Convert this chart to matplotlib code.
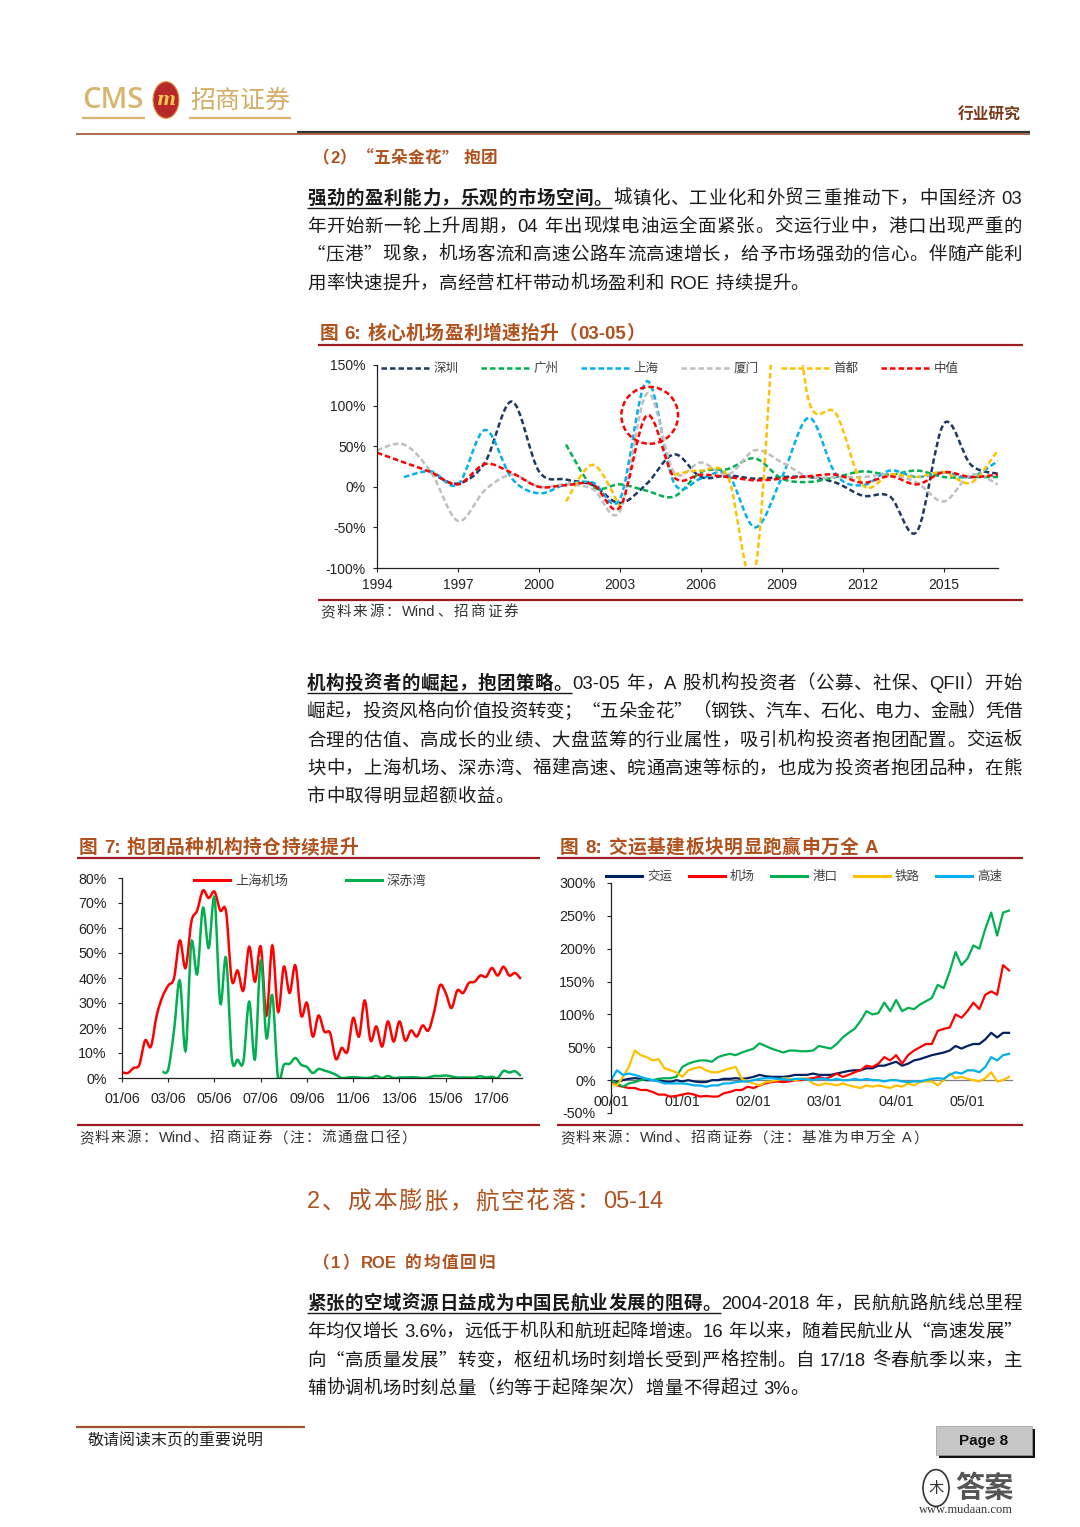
import re
import numpy as np
import matplotlib
matplotlib.use('Agg')
import matplotlib.pyplot as plt
from matplotlib.path import Path
from matplotlib.patches import PathPatch, Ellipse, Rectangle, Circle
from matplotlib.lines import Line2D

# ---------------- data ----------------
# Figure 6: core airports profit growth (yearly, %)
years6 = list(range(1994, 2018))
shenzhen = [np.nan, np.nan, 17, 4, 30, 105, 19, 9, 2, -20, 4, 40, 12, 14, 10, 12, 12, 5, -11, -12, -55, 78, 27, 16]
guangzhou = [np.nan] * 7 + [52, 0, 3, -5, -12, 18, 22, 35, 10, 6, 12, 19, 15, 20, 12, 12, 12]
shanghai = [np.nan, 12, 19, 3, 70, 10, -8, 3, 5, -15, 130, 5, 10, 15, -50, 12, 85, 15, 2, 20, 12, 18, 12, 32]
xiamen = [45, 52, 18, -42, -4, 15, 0, 3, -3, -30, 115, 18, 30, 15, 45, 30, 12, 12, 12, 15, 5, -18, 15, 3]
capital = [np.nan] * 7 + [-18, 27, -25, np.nan, 15, 20, 12, -103, 300, 105, 90, 2, 15, 12, 18, 5, 45]
median = [42, 30, 18, 3, 28, 17, 0, 2, 3, -25, 88, 12, 15, 12, 8, 10, 13, 15, 5, 13, 3, 18, 12, 15]
names6 = ['深圳', '广州', '上海', '厦门', '首都', '中值']
colors6 = ['#1F3864', '#00B050', '#00B0F0', '#BFBFBF', '#FFC000', '#FF0000']
xticks6 = [1994, 1997, 2000, 2003, 2006, 2009, 2012, 2015]
yticks6 = [-100, -50, 0, 50, 100, 150]

# Figure 7: institutional holdings (quarterly from 2001/06, %)
sh_airport = [2.3, 2.0, 4.0, 5.3, 15.0, 12.6, 25.0, 32.5, 37.0, 40.0,
              55.0, 44.0, 62.5, 67.0, 75.0, 72.0, 74.5, 67.0, 66.5, 39.0,
              43.0, 35.0, 52.5, 38.5, 52.5, 25.0, 53.0, 26.5, 44.5, 34.0,
              45.0, 25.0, 30.0, 16.6, 25.0, 18.6, 18.0, 7.6, 12.0, 10.6,
              24.0, 16.6, 31.0, 15.0, 20.6, 12.6, 22.6, 14.6, 22.6, 15.0,
              19.0, 16.6, 21.0, 19.0, 26.5, 37.0, 34.0, 28.0, 35.0, 34.0,
              38.0, 38.5, 41.0, 40.5, 44.0, 41.0, 44.5, 41.0, 42.0, 39.6]
sz_chiwan = [np.nan] * 7 + [2.5, 3.5, 19, 39, 11, 54, 41.6, 68, 52, 72, 30, 48, 8, 7.3, 6.6,
                            30.5, 7.6, 47, 16, 33, 0, 5.3, 5.7, 8, 5.3, 4.4, 2, 3.6, 3, 2.3, 1.3, 0,
                            0.2, 0.3, 0.2, 0, 0.2, 0.8, 0, 0.8, 0, 0.2,
                            0.2, 0.3, 0.2, 0, 0.2, 0.8, 0.8, 1.0, 0.6, 0.2,
                            0.2, 0.2, 0.2, 0.7, 0.2, 0.5, 0, 2.8, 2.2, 2.7, 0.8]
names7 = ['上海机场', '深赤湾']
xlabels7 = ['01/06', '03/06', '05/06', '07/06', '09/06', '11/06', '13/06', '15/06', '17/06']
yticks7 = [0, 10, 20, 30, 40, 50, 60, 70, 80]

# Figure 8: sector excess return vs SW All-A (monthly from 2000/01, %)
transport = [0, -3, 0, 2, 3, 2, 0, 0, 0, -2, -3, 0, -2, 0, -2, -3, -3, 0, 0, 2,
             2, 3, 2, 3, 5, 8, 6, 5, 5, 5, 6, 8, 8, 8, 10, 8, 8, 8, 10, 12,
             14, 15, 15, 18, 18, 22, 22, 25, 28, 22, 25, 30, 32, 35, 38, 40, 42, 45, 52, 48,
             52, 55, 55, 62, 72, 65, 72, 72]
airport = [0, -8, -10, -12, -12, -15, -15, -18, -22, -22, -25, -24, -22, -20, -22, -25, -24, -25, -25, -20,
           -18, -15, -15, -10, -12, -8, -5, -3, -2, -3, -2, 0, 0, 2, 3, 5, 2, 5, 10, 5,
           8, 12, 15, 22, 20, 25, 35, 30, 38, 25, 38, 45, 50, 55, 55, 75, 78, 80, 100, 95,
           105, 118, 108, 130, 135, 130, 175, 167]
port = [0, -5, -10, -5, -3, 0, 2, 0, 2, 3, 3, 5, 20, 25, 28, 30, 30, 28, 35, 38,
        40, 38, 42, 45, 48, 56, 52, 48, 45, 42, 45, 45, 44, 44, 45, 52, 50, 48, 55, 65,
        72, 78, 90, 105, 100, 102, 118, 105, 122, 105, 110, 108, 115, 120, 125, 145, 140, 165, 195, 175,
        185, 205, 200, 230, 255, 220, 255, 258]
railway = [-5, -8, 5, 20, 45, 38, 35, 30, 32, 18, 15, 12, 5, 15, 18, 20, 15, 12, 12, 15,
           18, 20, 2, -2, -5, -8, -3, -2, 0, 3, 2, 0, 2, 3, -5, -8, -5, -6, -8, -5,
           -8, -10, -12, -8, -10, -8, -10, -12, -8, -10, -5, -8, -3, -2, -2, -8, 0, 10, 3, 5,
           2, 0, -2, 3, 12, -2, 0, 5]
highway = [0, 15, 8, 10, 8, 5, 2, 0, -2, -5, -5, -5, -5, -6, -8, -8, -10, -8, -8, -5,
           -5, -3, -2, -2, 0, 2, 3, 3, 2, 2, 0, 2, 2, 1, 0, 2, 2, 0, 2, 0,
           0, 2, 0, 2, 0, 0, -2, 0, 0, -2, -3, -2, -2, 0, 2, 3, 2, 8, 12, 10,
           15, 15, 12, 20, 35, 30, 38, 40]
names8 = ['交运', '机场', '港口', '铁路', '高速']
colors8 = ['#002060', '#FF0000', '#00B050', '#FFC000', '#00B0F0']
xlabels8 = ['00/01', '01/01', '02/01', '03/01', '04/01', '05/01']
yticks8 = [-50, 0, 50, 100, 150, 200, 250, 300]

# ---------------- page setup ----------------
W, H = 1080, 1527
plt.rcParams['font.family'] = ['Liberation Sans', 'Noto Sans CJK SC', 'DejaVu Sans']
fig = plt.figure(figsize=(W / 100, H / 100), dpi=100)
fig.patch.set_facecolor('white')
renderer = fig.canvas.get_renderer()

CJK = 'Noto Sans CJK SC'
LAT = 'Liberation Sans'
BROWN = '#B0521E'
RULE = '#9E1B20'
TXT = '#1a1a1a'
TOKEN_RE = re.compile(r"[A-Za-z0-9%.\-/:]+| |.")


def FX(x):
    return x / W


def FY(y):
    return 1 - y / H


def hline(x0, x1, y, color, lw):
    fig.add_artist(Line2D([FX(x0), FX(x1)], [FY(y), FY(y)], color=color, lw=lw,
                          solid_capstyle='butt'))


def text_line(s, x0, y, size, x1=None, color=TXT, bold=False, lead='', underline=False, gap=0.0):
    full = lead + s
    toks = TOKEN_RE.findall(full)
    nlead = len(TOKEN_RE.findall(lead)) if lead else 0
    px = size * 100 / 72.0
    base = y + 0.36 * px
    items = []
    for i, t in enumerate(toks):
        if t == ' ':
            items.append((None, 0.28 * px))
            continue
        fam = LAT if re.match(r"[A-Za-z0-9%.\-/:]", t) else CJK
        wt = 'bold' if (bold or i < nlead) else 'normal'
        ta = fig.text(FX(x0), FY(base), t, fontsize=size, family=fam, weight=wt,
                      color=color, ha='left', va='baseline')
        items.append((ta, ta.get_window_extent(renderer).width))
    total = sum(w for _, w in items)
    n = len(items)
    g = (x1 - x0 - total) / (n - 1) if (x1 is not None and n > 1) else gap
    x = x0
    lead_end = x0
    for i, (ta, w) in enumerate(items):
        if ta is not None:
            ta.set_x(FX(x))
        x += w
        if i == nlead - 1:
            lead_end = x
        x += g
    if lead and underline:
        hline(x0, lead_end, y + 0.58 * px, TXT, 1.0)


def smooth(ax, x, y, **kw):
    x = np.asarray(x, float)
    y = np.asarray(y, float)
    idx = np.where(~np.isnan(y))[0]
    runs = np.split(idx, np.where(np.diff(idx) > 1)[0] + 1)
    for r in runs:
        if len(r) < 2:
            continue
        P = np.column_stack([x[r], y[r]])
        n = len(P)
        verts = [P[0]]
        codes = [Path.MOVETO]
        for i in range(n - 1):
            p0 = P[i - 1] if i > 0 else P[i]
            p1, p2 = P[i], P[i + 1]
            p3 = P[i + 2] if i + 2 < n else P[i + 1]
            verts += [p1 + (p2 - p0) / 6.0, p2 - (p3 - p1) / 6.0, p2]
            codes += [Path.CURVE4] * 3
        ax.add_patch(PathPatch(Path(verts, codes), fill=False, **kw))


def make_axes(l, t, r, b):
    ax = fig.add_axes([FX(l), FY(b), (r - l) / W, (b - t) / H])
    ax.set_facecolor('none')
    for s in ['top', 'right']:
        ax.spines[s].set_visible(False)
    for s in ['left', 'bottom']:
        ax.spines[s].set_color('#222222')
        ax.spines[s].set_linewidth(0.9)
    ax.tick_params(direction='out', length=3, width=0.8, labelsize=10, colors='#222222')
    return ax


# ---------------- header ----------------
fig.text(FX(82), FY(101), 'CMS', family='Open Sans', weight='semibold', fontsize=21,
         color='#D8B56F', ha='left', va='center')
fig.add_artist(Circle((FX(166), FY(100)), 13 / W, transform=fig.transFigure,
                      facecolor='#B8282A', edgecolor='#E0A040', lw=0.8))
fig.text(FX(166), FY(100), 'm', fontsize=13, weight='bold', style='italic', color='#F5C84E',
         ha='center', va='center', family='DejaVu Serif')
fig.text(FX(190), FY(101), '招商证券', family=CJK, fontsize=18, color='#D3AE66',
         ha='left', va='center')
hline(82, 145, 118, '#D8B56F', 1.6)
hline(189, 291, 118, '#D8B56F', 1.6)
fig.text(FX(1021), FY(115), '行业研究', family=CJK, fontsize=11.3, weight='bold',
         color='#7A3A1A', ha='right', va='center')
hline(76, 1030, 134, '#A0522D', 1.2)
hline(297, 1030, 132, '#333333', 1.6)

# ---------------- section (2) ----------------
text_line('（2）“五朵金花” 抱团', 313, 157, 12, x1=497, color=BROWN, bold=True)

text_line('城镇化、工业化和外贸三重推动下，中国经济 03', 307, 197, 13.3, x1=1022,
          lead='强劲的盈利能力，乐观的市场空间。', underline=True)
text_line('年开始新一轮上升周期，04 年出现煤电油运全面紧张。交运行业中，港口出现严重的', 307, 225, 13.3, x1=1022)
text_line('“压港”现象，机场客流和高速公路车流高速增长，给予市场强劲的信心。伴随产能利', 307, 253, 13.3, x1=1022)
text_line('用率快速提升，高经营杠杆带动机场盈利和 ROE 持续提升。', 307, 282, 13.3, gap=0.3)

# ---------------- Figure 6 ----------------
text_line('图 6: 核心机场盈利增速抬升（03-05）', 320, 332, 13.5, x1=645, color=BROWN, bold=True)
hline(318, 1023, 345, RULE, 1.6)
hline(318, 1023, 600, RULE, 1.6)
text_line('资料来源：Wind、招商证券', 320, 611, 10.5, x1=518, color='#333333')

ax6 = make_axes(377, 365, 998, 568)
dash = (0, (2.2, 1.2))
for vals, col in zip([shenzhen, guangzhou, shanghai, xiamen, capital, median], colors6):
    smooth(ax6, years6, vals, edgecolor=col, lw=1.8, linestyle=dash)
imax = int(np.nanargmax(median))
ax6.add_patch(Ellipse((years6[imax] + 0.1, median[imax]), 2.1, 70, fill=False,
                      edgecolor='#FF0000', lw=1.8, linestyle=dash))
ax6.set_xlim(1994, 2017)
ax6.set_ylim(-100, 150)
ax6.set_xticks(xticks6)
ax6.set_xticklabels([str(v) for v in xticks6])
ax6.set_yticks(yticks6)
ax6.set_yticklabels([f'{v}%' for v in yticks6])
ax6.tick_params(axis='y', pad=5)
ax6.tick_params(axis='x', pad=4)
h6 = [Line2D([0], [0], color=c, lw=1.8, linestyle=dash) for c in colors6]
ax6.legend(h6, names6, ncol=6, loc='upper left', bbox_to_anchor=(FX(381), FY(362)),
           bbox_transform=fig.transFigure, frameon=False, prop={'family': CJK, 'size': 9},
           handlelength=3.8, handletextpad=0.4, columnspacing=1.8, borderpad=0,
           borderaxespad=0, labelcolor='#404040')

# ---------------- paragraph 2 ----------------
text_line('03-05 年，A 股机构投资者（公募、社保、QFII）开始', 307, 682, 13.3, x1=1022,
          lead='机构投资者的崛起，抱团策略。', underline=True)
text_line('崛起，投资风格向价值投资转变；“五朵金花”（钢铁、汽车、石化、电力、金融）凭借', 307, 710, 13.3, x1=1022)
text_line('合理的估值、高成长的业绩、大盘蓝筹的行业属性，吸引机构投资者抱团配置。交运板', 307, 739, 13.3, x1=1022)
text_line('块中，上海机场、深赤湾、福建高速、皖通高速等标的，也成为投资者抱团品种，在熊', 307, 767, 13.3, x1=1022)
text_line('市中取得明显超额收益。', 307, 795, 13.3, gap=0.3)

# ---------------- Figure 7 ----------------
text_line('图 7: 抱团品种机构持仓持续提升', 79, 846, 13.5, x1=358, color=BROWN, bold=True)
hline(77, 540, 858, RULE, 1.6)
hline(77, 540, 1125, RULE, 1.6)
text_line('资料来源：Wind、招商证券（注：流通盘口径）', 79, 1137, 10.5, x1=416, color='#333333')

ax7 = make_axes(122, 878, 522, 1078)
q7 = np.arange(len(sh_airport))
smooth(ax7, q7, sh_airport, edgecolor='#FF0000', lw=1.8)
smooth(ax7, q7, sz_chiwan, edgecolor='#00B050', lw=1.8)
ax7.set_xlim(0, 69.2)
ax7.set_ylim(0, 80)
ax7.set_xticks(np.arange(0, 65, 8))
ax7.set_xticklabels(xlabels7)
ax7.set_yticks(yticks7)
ax7.set_yticklabels([f'{v}%' for v in yticks7])
ax7.tick_params(axis='both', labelsize=10.3)
ax7.tick_params(axis='y', pad=8)
ax7.tick_params(axis='x', pad=7)
h7 = [Line2D([0], [0], color='#FF0000', lw=2.2), Line2D([0], [0], color='#00B050', lw=2.2)]
ax7.legend(h7, names7, ncol=2, loc='upper left', bbox_to_anchor=(FX(194), FY(875)),
           bbox_transform=fig.transFigure, frameon=False, prop={'family': CJK, 'size': 9.5},
           handlelength=2.7, handletextpad=0.4, columnspacing=4.4, borderpad=0,
           borderaxespad=0, labelcolor='#404040')

# ---------------- Figure 8 ----------------
text_line('图 8: 交运基建板块明显跑赢申万全 A', 560, 846, 13.5, x1=878, color=BROWN, bold=True)
hline(557, 1023, 858, RULE, 1.6)
hline(557, 1023, 1125, RULE, 1.6)
text_line('资料来源：Wind、招商证券（注：基准为申万全 A）', 560, 1137, 10.5, x1=928, color='#333333')

ax8 = make_axes(611, 883, 1012, 1113)
m8 = np.arange(len(port))
for vals, col in zip([transport, airport, port, railway, highway], colors8):
    ax8.plot(m8, vals, color=col, lw=1.6, solid_joinstyle='round')
ax8.set_xlim(0, 67.5)
ax8.set_ylim(-50, 300)
ax8.spines['bottom'].set_position(('data', 0))
ax8.spines['bottom'].set_color('#7F7F7F')
ax8.spines['bottom'].set_zorder(0.5)
ax8.set_xticks(np.arange(0, 61, 12))
ax8.set_xticklabels(xlabels8)
ax8.tick_params(axis='both', labelsize=10.3)
ax8.tick_params(axis='x', length=0, pad=11)
ax8.set_yticks(yticks8)
ax8.set_yticklabels([f'{v}%' for v in yticks8])
ax8.tick_params(axis='y', pad=8)
h8 = [Line2D([0], [0], color=c, lw=2.2) for c in colors8]
ax8.legend(h8, names8, ncol=5, loc='upper left', bbox_to_anchor=(FX(606), FY(870)),
           bbox_transform=fig.transFigure, frameon=False, prop={'family': CJK, 'size': 9},
           handlelength=2.9, handletextpad=0.4, columnspacing=1.3, borderpad=0,
           borderaxespad=0, labelcolor='#404040')

# ---------------- section 2 ----------------
text_line('2、成本膨胀，航空花落：05-14', 307, 1200, 17, x1=663, color=BROWN)
text_line('（1）ROE 的均值回归', 313, 1262, 12, x1=495, color=BROWN, bold=True)
text_line('2004-2018 年，民航航路航线总里程', 307, 1302, 13.3, x1=1022,
          lead='紧张的空域资源日益成为中国民航业发展的阻碍。', underline=True)
text_line('年均仅增长 3.6%，远低于机队和航班起降增速。16 年以来，随着民航业从“高速发展”', 307, 1330, 13.3, x1=1022)
text_line('向“高质量发展”转变，枢纽机场时刻增长受到严格控制。自 17/18 冬春航季以来，主', 307, 1359, 13.3, x1=1022)
text_line('辅协调机场时刻总量（约等于起降架次）增量不得超过 3%。', 307, 1387, 13.3, gap=0.3)

# ---------------- footer ----------------
hline(76, 305, 1427, '#A0522D', 1.6)
fig.text(FX(88), FY(1441), '敬请阅读末页的重要说明', family=CJK, fontsize=11.5, color='#222222',
         ha='left', va='center')
fig.add_artist(Rectangle((FX(939), FY(1458)), 96 / W, 29 / H, transform=fig.transFigure,
                         facecolor='#111111', edgecolor='none'))
fig.add_artist(Rectangle((FX(936), FY(1455)), 96 / W, 29 / H, transform=fig.transFigure,
                         facecolor='#C6C6C6', edgecolor='#9a9a9a', lw=0.5))
fig.text(FX(984), FY(1441), 'Page 8', fontsize=11, weight='bold', color='#111111',
         ha='center', va='center')
fig.add_artist(Circle((FX(936), FY(1488)), 13 / W, transform=fig.transFigure,
                      facecolor='white', edgecolor='#333333', lw=1.2))
fig.text(FX(936), FY(1488), '木', family=CJK, fontsize=11, color='#333333', ha='center', va='center')
fig.text(FX(984), FY(1488), '答案', family=CJK, fontsize=21, weight='bold', color='#555555',
         ha='center', va='center')
fig.text(FX(966), FY(1510), 'www.mudaan.com', family='Liberation Serif', fontsize=9,
         color='#333333', ha='center', va='center')

fig.savefig('out.png', dpi=100, facecolor='white')
